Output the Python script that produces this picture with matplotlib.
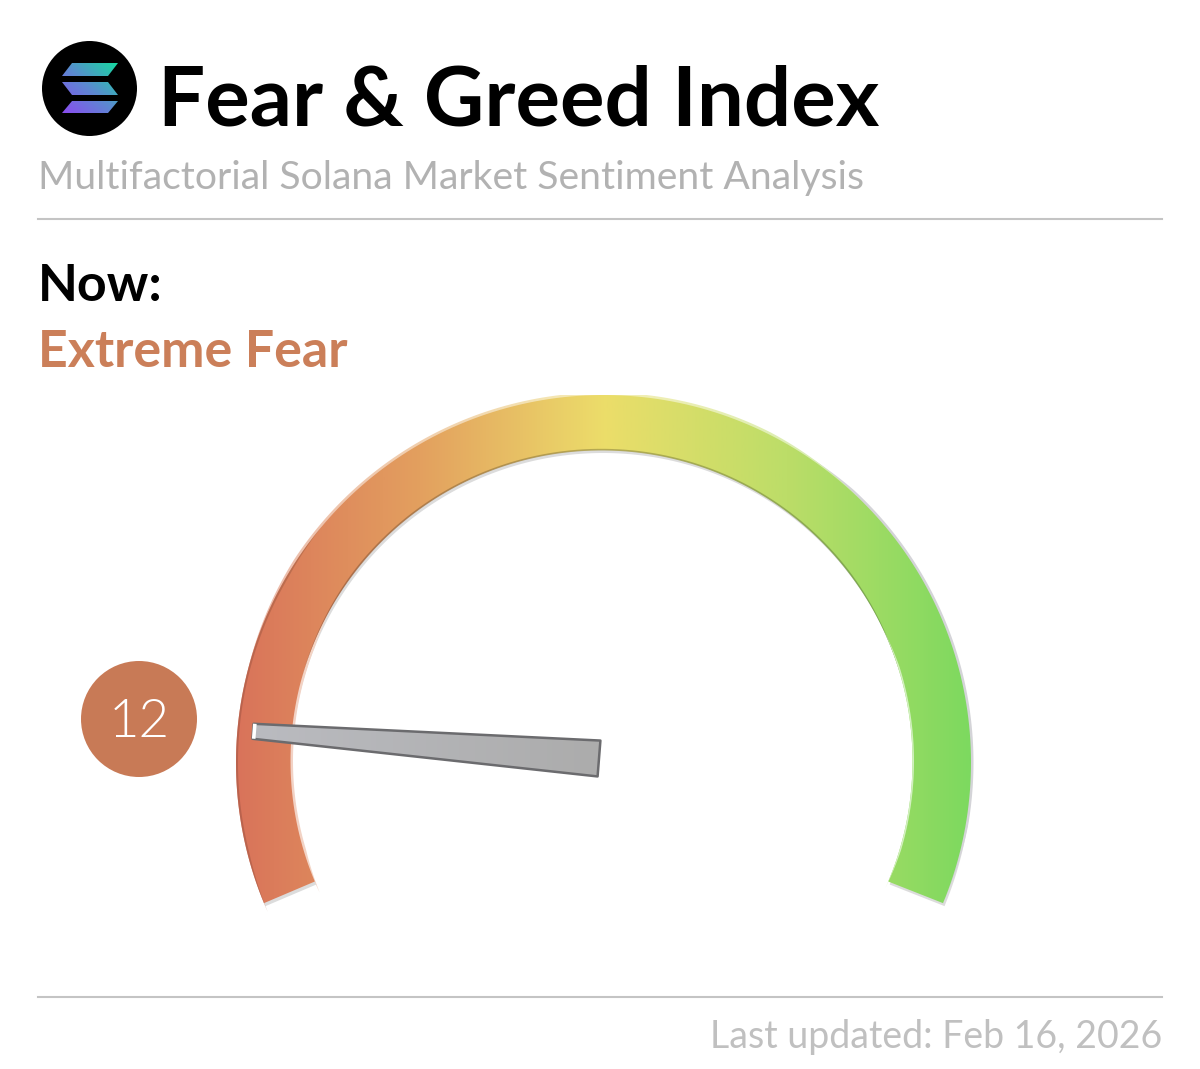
import numpy as np
import matplotlib
matplotlib.use('Agg')
import matplotlib.pyplot as plt
from matplotlib import font_manager as fm
from matplotlib.colors import LinearSegmentedColormap, to_rgb
from matplotlib.patches import Circle, Polygon

plt.rcParams['font.family'] = ['Lato', 'DejaVu Sans']

title = 'Fear & Greed Index'
subtitle = 'Multifactorial Solana Market Sentiment Analysis'
now_label = 'Now:'
state_label = 'Extreme Fear'
updated = 'Last updated: Feb 16, 2026'
value = 12

gauge_pos = [0.0, 0.25, 0.5, 0.75, 1.0]
gauge_colors = ['#d9735a', '#e3a05f', '#ecdd6a', '#bcdd68', '#7dd95f']
logo_colors = ['#8a4cf0', '#5b8ad0', '#16d9a0']

CX, CY = 603.5, 762.5
ICX, ICY = 601.5, 761.0
R_OUT, R_IN = 367.5, 311.0
A_START, A_END = 202.5, -22.5
INNER_EXTRA = 0.3

light_files = [f for f in fm.findSystemFonts() if f.endswith('Lato-Light.ttf')]
light_font = fm.FontProperties(fname=light_files[0]) if light_files else fm.FontProperties(family='Lato')


def band(r0, r1, a0, a1, dx=0, dy=0, n=200):
    t = np.radians(np.linspace(a0, a1, n))
    ti = np.radians(np.linspace(a1 - INNER_EXTRA, a0 + INNER_EXTRA, n))
    xo = CX + dx + r1 * np.cos(t)
    yo = CY + dy - r1 * np.sin(t)
    xi = ICX + dx + r0 * np.cos(ti)
    yi = ICY + dy - r0 * np.sin(ti)
    return np.r_[np.c_[xo, yo], np.c_[xi, yi]]


def strip(cx, cy, base, inside, outside, a0, a1, n=120):
    # thin strip along an arc, tapering to nothing at both ends
    t = np.radians(np.linspace(a0, a1, n))
    taper = np.clip(np.minimum(np.arange(n), np.arange(n)[::-1]) / (n * 0.15), 0, 1)
    r1 = base + outside * taper
    r0 = base - inside * taper
    return np.r_[np.c_[cx + r1 * np.cos(t), cy - r1 * np.sin(t)],
                 np.c_[cx + r0[::-1] * np.cos(t[::-1]), cy - r0[::-1] * np.sin(t[::-1])]]


def shade(colors, f):
    if f < 0:
        return [tuple(c * (1 + f) for c in to_rgb(k)) for k in colors]
    return [tuple(c + (1 - c) * f for c in to_rgb(k)) for k in colors]


def grad_band(pts, colors, alpha=1.0, z=2):
    cmap = LinearSegmentedColormap.from_list('g', list(zip(gauge_pos, colors)))
    left, right = CX - R_OUT, CX + R_OUT
    im = ax.imshow(np.linspace(0, 1, 512)[None, :], cmap=cmap, extent=(left, right, CY + R_OUT, CY - R_OUT),
                   aspect='auto', alpha=alpha, zorder=z, interpolation='bilinear')
    p = Polygon(pts, closed=True, transform=ax.transData, fc='none', ec='none')
    ax.add_patch(p)
    im.set_clip_path(p)


fig = plt.figure(figsize=(12, 10.69), dpi=100, facecolor='white')
ax = fig.add_axes([0, 0, 1, 1])
ax.axis('off')

# logo
ax.add_patch(Circle((89.5, 88.5), 47.5, fc='black', ec='none', zorder=2))
bars = [[(72, 63), (118, 63), (108, 76), (62, 76)],
        [(62, 82), (108, 82), (118, 95), (72, 95)],
        [(72, 101), (118, 101), (108, 113), (62, 113)]]
xx, yy = np.meshgrid(np.linspace(0, 1, 60), np.linspace(0, 1, 60))
logo_cmap = LinearSegmentedColormap.from_list('logo', logo_colors)
for b in bars:
    im = ax.imshow((xx + 1 - yy) / 2, cmap=logo_cmap, extent=(62, 118, 113, 63), aspect='auto', zorder=3)
    p = Polygon(b, closed=True, transform=ax.transData, fc='none', ec='none')
    ax.add_patch(p)
    im.set_clip_path(p)

# header text
ax.text(158.5, 125.5, title, fontsize=60, fontweight='bold', color='black', va='baseline', ha='left', zorder=5)
ax.text(38, 189, subtitle, fontsize=28.2, color='#b2b2b2', va='baseline', ha='left')
ax.plot([38, 1162], [219, 219], color='#c4c4c4', lw=1.5)
ax.text(38, 301, now_label, fontsize=37.4, fontweight='bold', color='black', va='baseline')
ax.text(38, 367, state_label, fontsize=37.4, fontweight='bold', color='#cb7f59', va='baseline')

# gauge: shadow and highlight under the gradient, bevel lines above it
ax.add_patch(Polygon(band(R_IN, R_OUT, A_START, A_END, dx=1.5, dy=3), closed=True, fc='#dcdcdc', ec='none', zorder=1))
ax.add_patch(Polygon(strip(CX, CY, R_OUT, 2, 2.5, 60, A_END), closed=True, fc='#d4d4d8', ec='none', zorder=1.2))
grad_band(strip(CX, CY, R_OUT, 2, 2.5, 165, 45), shade(gauge_colors, 0.5), z=1.5)
grad_band(strip(ICX, ICY, R_IN, 2.5, 1, 205, 150), shade(gauge_colors, 0.65), z=1.6)
grad_band(band(R_IN, R_OUT, A_START, A_END), gauge_colors, z=2)
grad_band(strip(ICX, ICY, R_IN, 0.5, 1.2, 165, 15), shade(gauge_colors, -0.3), alpha=0.75, z=3)
grad_band(strip(CX, CY, R_OUT, 0, -2, 204, 140), shade(gauge_colors, -0.2), alpha=0.7, z=3)
grad_band(strip(ICX, ICY, R_IN, 0, 1.5, -24, 25), shade(gauge_colors, 0.6), z=3)

# value badge
ax.add_patch(Circle((139, 719), 58, fc='#c87a56', ec='none', zorder=4))
ax.text(139, 737, str(value), fontproperties=light_font, fontsize=38, color='white', ha='center', va='baseline', zorder=5)

# needle
frac = value / 100
ang = np.radians(A_START + (A_END - A_START) * frac)
ux, uy = np.cos(ang), -np.sin(ang)
nx, ny = -uy, ux
bx, by = 599, 758.5
L = 347
needle = np.array([(bx + ux * L + nx * 7.5, by + uy * L + ny * 7.5),
                   (bx + ux * L - nx * 7.5, by + uy * L - ny * 7.5),
                   (bx - nx * 18, by - ny * 18),
                   (bx + nx * 18, by + ny * 18)])
nim = ax.imshow(np.linspace(0, 1, 64)[None, :], cmap=LinearSegmentedColormap.from_list('n', ['#babbc0', '#acacac']),
                extent=(250, 602, 780, 720), aspect='auto', zorder=6)
np_patch = Polygon(needle, closed=True, transform=ax.transData, fc='none', ec='none')
ax.add_patch(np_patch)
nim.set_clip_path(np_patch)
ax.add_patch(Polygon(needle, closed=True, fc='none', ec='#6b6b6e', lw=1.8, joinstyle='round', zorder=7))
ax.plot(needle[:2, 0] + 1.2, needle[:2, 1], color='white', lw=2.6, zorder=8, solid_capstyle='butt')

# footer
ax.plot([38, 1162], [997, 997], color='#c4c4c4', lw=1.5)
ax.text(1162, 1048, updated, fontsize=27, color='#c0c0c0', ha='right', va='baseline')

ax.set_xlim(0, 1200)
ax.set_ylim(1069, 0)
fig.savefig('out.png', dpi=100, facecolor='white')
